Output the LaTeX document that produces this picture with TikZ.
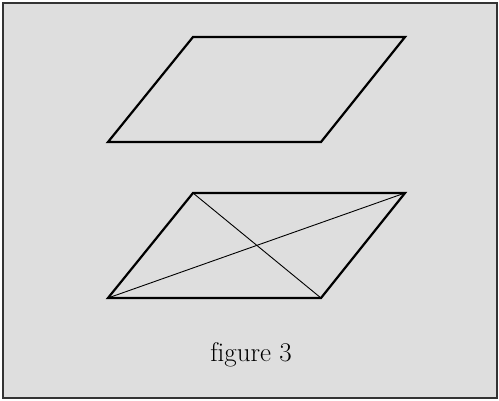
\documentclass[tikz,border=0pt]{standalone}
\usepackage{tikz}
\usetikzlibrary{calc}

\begin{document}
\begin{tikzpicture}[
    x=1pt, y=-1pt,
    edge/.style={line width=2.2pt, line join=miter},
    diag/.style={line width=0.9pt},
    frame/.style={draw=black!80, line width=1.2pt, fill=black!13},
    caption/.style={font=\fontsize{27}{32}\selectfont, inner sep=0pt},
]

\useasboundingbox (0,0) rectangle (499,400);
\draw[frame] (3,3) rectangle (497,398);

% upper parallelogram
\coordinate (ua) at (193,37);
\coordinate (ub) at (405,37);
\coordinate (uc) at (321,142);
\coordinate (ud) at (108,142);
\draw[edge] (ua) -- (ub) -- (uc) -- (ud) -- cycle;

% lower parallelogram with diagonals
\coordinate (la) at (193,193);
\coordinate (lb) at (405,193);
\coordinate (lc) at (321,298);
\coordinate (ld) at (108,298);
\draw[diag] (ld) -- (lb);
\draw[diag] (la) -- (lc);
\draw[edge] (la) -- (lb) -- (lc) -- (ld) -- cycle;

\node[caption] (cap) at (251,355) {f\kern0pt igure 3};

\end{tikzpicture}
\end{document}
